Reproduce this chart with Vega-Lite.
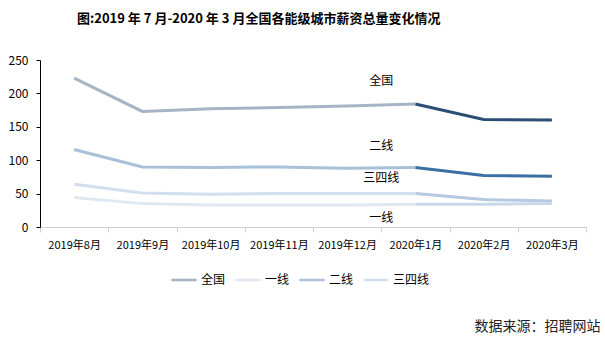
{
  "$schema": "https://vega.github.io/schema/vega-lite/v6.json",
  "autosize": {"type": "none"},
  "width": 546,
  "height": 167,
  "padding": {"left": 40, "top": 60, "right": 19, "bottom": 113},
  "background": "white",
  "config": {
    "font": "Noto Sans CJK SC",
    "view": {"stroke": null}
  },
  "title": {
    "text": "图:2019 年 7 月-2020 年 3 月全国各能级城市薪资总量变化情况",
    "fontSize": 13,
    "fontWeight": "bold",
    "color": "#000000",
    "anchor": "start",
    "frame": "group",
    "dx": 37,
    "offset": 28
  },
  "datasets": {
    "lines": [
      {"month": "2019年8月", "series": "全国", "part": "前", "value": 223},
      {"month": "2019年9月", "series": "全国", "part": "前", "value": 173},
      {"month": "2019年10月", "series": "全国", "part": "前", "value": 177},
      {"month": "2019年11月", "series": "全国", "part": "前", "value": 179},
      {"month": "2019年12月", "series": "全国", "part": "前", "value": 181},
      {"month": "2020年1月", "series": "全国", "part": "前", "value": 184},
      {"month": "2020年1月", "series": "全国", "part": "后", "value": 184},
      {"month": "2020年2月", "series": "全国", "part": "后", "value": 161},
      {"month": "2020年3月", "series": "全国", "part": "后", "value": 160},
      {"month": "2019年8月", "series": "二线", "part": "前", "value": 116},
      {"month": "2019年9月", "series": "二线", "part": "前", "value": 90},
      {"month": "2019年10月", "series": "二线", "part": "前", "value": 89},
      {"month": "2019年11月", "series": "二线", "part": "前", "value": 90},
      {"month": "2019年12月", "series": "二线", "part": "前", "value": 88},
      {"month": "2020年1月", "series": "二线", "part": "前", "value": 89},
      {"month": "2020年1月", "series": "二线", "part": "后", "value": 89},
      {"month": "2020年2月", "series": "二线", "part": "后", "value": 77},
      {"month": "2020年3月", "series": "二线", "part": "后", "value": 76},
      {"month": "2019年8月", "series": "三四线", "part": "前", "value": 64},
      {"month": "2019年9月", "series": "三四线", "part": "前", "value": 51},
      {"month": "2019年10月", "series": "三四线", "part": "前", "value": 49},
      {"month": "2019年11月", "series": "三四线", "part": "前", "value": 50},
      {"month": "2019年12月", "series": "三四线", "part": "前", "value": 50},
      {"month": "2020年1月", "series": "三四线", "part": "前", "value": 50},
      {"month": "2020年1月", "series": "三四线", "part": "后", "value": 50},
      {"month": "2020年2月", "series": "三四线", "part": "后", "value": 41},
      {"month": "2020年3月", "series": "三四线", "part": "后", "value": 39},
      {"month": "2019年8月", "series": "一线", "part": "前", "value": 44},
      {"month": "2019年9月", "series": "一线", "part": "前", "value": 35},
      {"month": "2019年10月", "series": "一线", "part": "前", "value": 33},
      {"month": "2019年11月", "series": "一线", "part": "前", "value": 33},
      {"month": "2019年12月", "series": "一线", "part": "前", "value": 33},
      {"month": "2020年1月", "series": "一线", "part": "前", "value": 34},
      {"month": "2020年1月", "series": "一线", "part": "后", "value": 34},
      {"month": "2020年2月", "series": "一线", "part": "后", "value": 34},
      {"month": "2020年3月", "series": "一线", "part": "后", "value": 35}
    ],
    "labels": [
      {"month": "2020年1月", "label": "全国", "value": 218},
      {"month": "2020年1月", "label": "二线", "value": 122},
      {"month": "2020年1月", "label": "三四线", "value": 74},
      {"month": "2020年1月", "label": "一线", "value": 13}
    ]
  },
  "encoding": {
    "x": {
      "field": "month",
      "type": "ordinal",
      "scale": {
        "type": "band",
        "paddingInner": 0,
        "paddingOuter": 0,
        "domain": ["2019年8月", "2019年9月", "2019年10月", "2019年11月", "2019年12月", "2020年1月", "2020年2月", "2020年3月"]
      },
      "axis": {
        "labelAngle": 0,
        "labelFontSize": 11,
        "labelColor": "#000000",
        "labelPadding": 7,
        "domainColor": "#d0d0d0",
        "tickColor": "#d0d0d0",
        "tickSize": 5,
        "tickBand": "extent",
        "title": "数据来源：招聘网站",
        "titleFontSize": 14,
        "titleFontWeight": "normal",
        "titleColor": "#222222",
        "titleAnchor": "end",
        "titleAlign": "right",
        "titleBaseline": "middle",
        "titleX": 560,
        "titleY": 99
      }
    },
    "y": {
      "field": "value",
      "type": "quantitative",
      "scale": {"domain": [0, 250], "nice": false},
      "axis": {
        "values": [0, 50, 100, 150, 200, 250],
        "grid": false,
        "title": null,
        "labelFontSize": 12,
        "labelColor": "#000000",
        "labelPadding": 8,
        "domainColor": "#000000",
        "tickColor": "#000000",
        "tickSize": 4
      }
    }
  },
  "layer": [
    {
      "data": {"name": "lines"},
      "transform": [{"filter": "datum.part === '前'"}],
      "mark": {"type": "line", "strokeWidth": 3},
      "encoding": {
        "x": {"field": "month", "type": "ordinal", "bandPosition": 0.5},
        "color": {
          "field": "series",
          "type": "nominal",
          "scale": {
            "domain": ["全国", "一线", "二线", "三四线"],
            "range": ["#a6b4c5", "#e0e9f3", "#a8c0d8", "#d2e0ee"]
          },
          "legend": {
            "title": null,
            "orient": "none",
            "legendX": 130,
            "legendY": 206,
            "direction": "horizontal",
            "symbolType": "stroke",
            "symbolSize": 625,
            "symbolStrokeWidth": 2.5,
            "labelFontSize": 12,
            "labelColor": "#000000",
            "labelOffset": 3,
            "columnPadding": 4
          }
        }
      }
    },
    {
      "data": {"name": "lines"},
      "transform": [{"filter": "datum.part === '后'"}],
      "mark": {"type": "line", "strokeWidth": 3},
      "encoding": {
        "x": {"field": "month", "type": "ordinal", "bandPosition": 0.5},
        "color": {
          "field": "series",
          "type": "nominal",
          "scale": {
            "domain": ["全国", "一线", "二线", "三四线"],
            "range": ["#2b4e74", "#cad9ea", "#3b6fa4", "#b5cae0"]
          },
          "legend": null
        }
      }
    },
    {
      "data": {"name": "labels"},
      "mark": {"type": "text", "fontSize": 12, "color": "#000000", "align": "center", "baseline": "middle"},
      "encoding": {
        "x": {"field": "month", "type": "ordinal", "bandPosition": 0},
        "text": {"field": "label"}
      }
    }
  ],
  "resolve": {"scale": {"color": "independent"}}
}
